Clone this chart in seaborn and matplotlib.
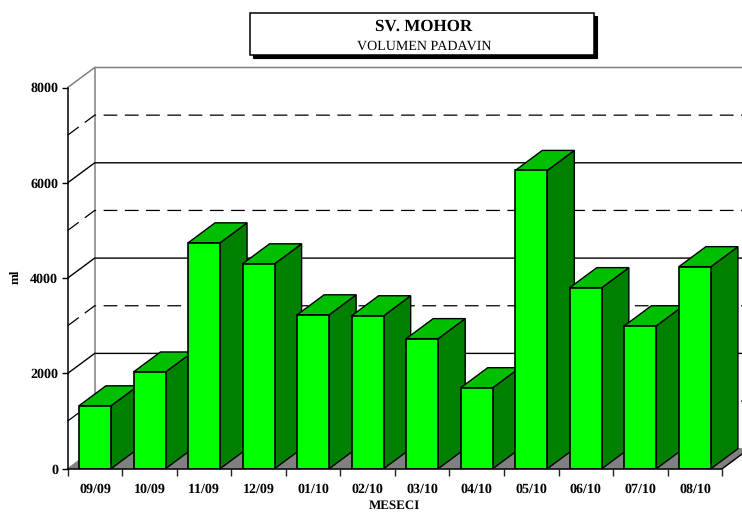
import matplotlib
matplotlib.use("Agg")
import matplotlib.pyplot as plt
from matplotlib.patches import Polygon, Rectangle
import pandas as pd
import seaborn as sns

months = ["09/09", "10/09", "11/09", "12/09", "01/10", "02/10",
          "03/10", "04/10", "05/10", "06/10", "07/10", "08/10"]
volumes = [1320, 2030, 4740, 4300, 3230, 3210, 2730, 1700, 6260, 3800, 3000, 4240]
y_ticks = [0, 2000, 4000, 6000, 8000]
solid_grid = [2000, 4000, 6000]
dashed_grid = [1000, 3000, 5000, 7000]

sns.set_theme(style="white")
plt.rcParams["font.family"] = ["Liberation Serif", "DejaVu Serif"]
plt.rcParams["text.hinting"] = "no_hinting"
plt.rcParams["text.hinting_factor"] = 1

W, H = 742, 512
fig = plt.figure(figsize=(W / 100, H / 100), dpi=100, facecolor="white")
L, R, T, B = 67.7, 722.2, 87.5, 468.7
ax = fig.add_axes([L / W, 1 - B / H, (R - L) / W, (B - T) / H])

df = pd.DataFrame({"mesec": months, "ml": volumes})
sns.barplot(data=df, x="mesec", y="ml", order=months, color="#00FF00", saturation=1,
            width=0.587, edgecolor="black", linewidth=1.2, ax=ax)
ax.set_xlim(-0.5, 11.5)
ax.set_ylim(0, 8000)

DX = 27 / ((R - L) / 12)          # depth of the box, category units
DY = 20 / ((B - T) / 8000)        # depth of the box, value units
x0, x1 = -0.5, 11.5
xb = x0 + DX

# floor
ax.add_patch(Polygon([(x0, 0), (xb, DY), (x1 + DX, DY), (x1, 0)], closed=True, fc="#808080",
                     ec="#808080", lw=0.8, clip_on=False, zorder=1))
ax.plot([x1, x1 + DX], [0, DY], color="black", lw=1, clip_on=False, zorder=1.2)

# back wall and grid
ax.plot([xb, xb], [DY, 8000 + DY], color="#808080", lw=1.1, clip_on=False, zorder=1.1)
ax.plot([x0, xb, x1 + DX], [8000, 8000 + DY, 8000 + DY], color="#808080", lw=1.1,
        clip_on=False, zorder=1.1)
for v in solid_grid:
    ax.plot([x0, xb, x1 + DX], [v, v + DY, v + DY], color="black", lw=1.0,
            clip_on=False, zorder=1.1)
for v in dashed_grid:
    ax.plot([x0, xb, x1 + DX], [v, v + DY, v + DY], color="black", lw=0.9,
            dashes=(11, 6), clip_on=False, zorder=1.1)

# 3D faces built from the bars the library drew
bars = [p for p in ax.patches if isinstance(p, Rectangle)]
for i, bar in enumerate(bars):
    a, w, h = bar.get_x(), bar.get_width(), bar.get_height()
    z = 3 + i
    bar.set_zorder(z + 0.2)
    ax.add_patch(Polygon([(a + w, 0), (a + w + DX, DY), (a + w + DX, h + DY), (a + w, h)],
                         closed=True, fc="#007F00", ec="black", lw=1.0, clip_on=False, zorder=z))
    ax.add_patch(Polygon([(a, h), (a + DX, h + DY), (a + w + DX, h + DY), (a + w, h)],
                         closed=True, fc="#00BF00", ec="black", lw=1.0, clip_on=False, zorder=z + 0.1))

for s in ("top", "right"):
    ax.spines[s].set_visible(False)
for s in ("left", "bottom"):
    ax.spines[s].set_color("black")
    ax.spines[s].set_linewidth(1.1)
    ax.spines[s].set_zorder(30)

ax.set_yticks(y_ticks)
ax.set_yticklabels([str(v) for v in y_ticks], fontsize=10, fontweight="bold", color="black")
ax.set_xticks([i - 0.5 for i in range(13)])
ax.set_xticklabels([""] * 13)
ax.set_xticks(range(12), labels=months, minor=True, fontsize=10, fontweight="bold", color="black")
ax.tick_params(axis="y", which="major", left=True, length=4.3, width=1, pad=2.6, color="black")
ax.tick_params(axis="x", which="major", bottom=True, length=5, width=1, color="#222222")
ax.tick_params(axis="x", which="minor", bottom=False, pad=6.3)
ax.set_xlabel("")
ax.set_ylabel("")

fig.text(15.5 / W, 1 - 277 / H, "ml", rotation=90, ha="center", va="center",
         fontsize=9.5, fontweight="bold", color="black")
fig.text(394 / W, 1 - 506 / H, "MESECI", ha="center", va="center",
         fontsize=9.5, fontweight="bold", color="black")

# title box with shadow
bx0, bx1, by0, by1 = 249.5, 593.5, 12.5, 54.5
fig.add_artist(Rectangle(((bx0 + 3) / W, 1 - (by1 + 3) / H), (bx1 - bx0) / W, (by1 - by0) / H,
                         transform=fig.transFigure, fc="black", ec="black", lw=0.8))
fig.add_artist(Rectangle((bx0 / W, 1 - by1 / H), (bx1 - bx0) / W, (by1 - by0) / H,
                         transform=fig.transFigure, fc="white", ec="black", lw=1.1))
fig.text(424 / W, 1 - 27 / H, "SV. MOHOR", ha="center", va="center",
         fontsize=12.5, fontweight="bold", color="black")
fig.text(424 / W, 1 - 46 / H, "VOLUMEN PADAVIN", ha="center", va="center",
         fontsize=10, color="black")

fig.savefig("out.png", dpi=100)
